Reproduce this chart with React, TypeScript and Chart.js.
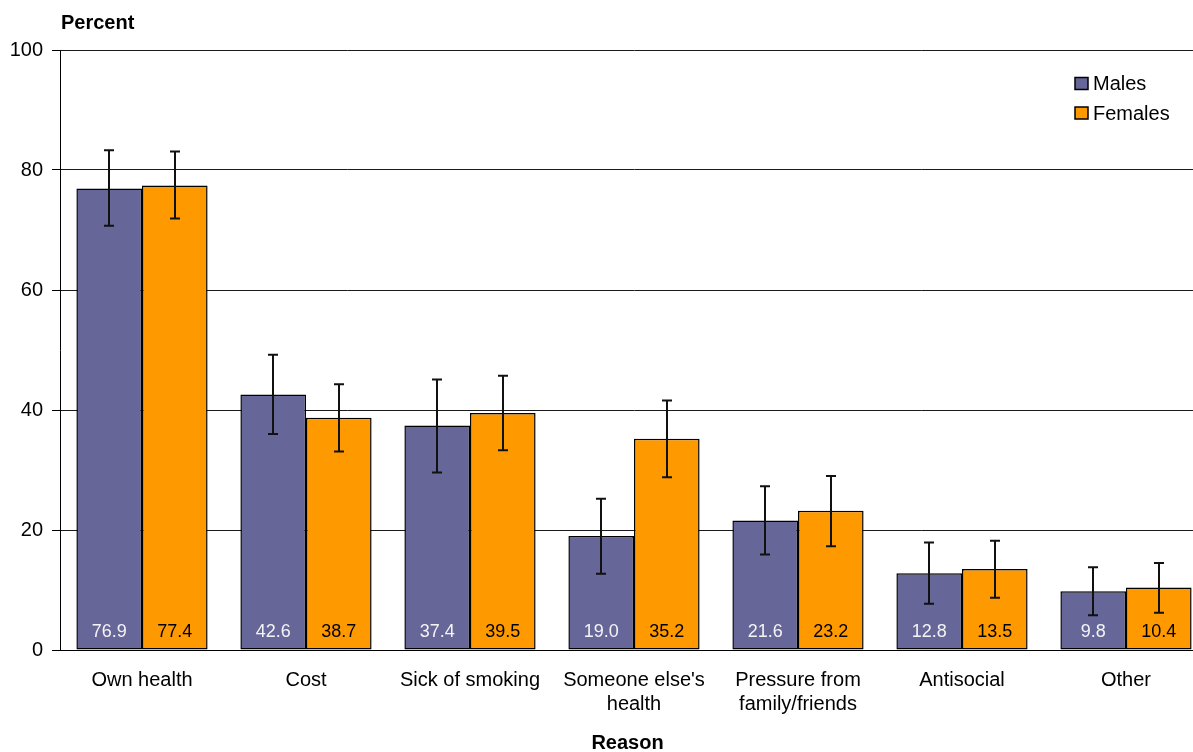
import React, { useEffect, useRef } from "react";
import { Chart, registerables } from "chart.js";

Chart.register(...registerables);

const categories: (string | string[])[] = [
  "Own health",
  "Cost",
  "Sick of smoking",
  ["Someone else's", "health"],
  ["Pressure from", "family/friends"],
  "Antisocial",
  "Other",
];
const malesValues = [76.9, 42.6, 37.4, 19.0, 21.6, 12.8, 9.8];
const femalesValues = [77.4, 38.7, 39.5, 35.2, 23.2, 13.5, 10.4];
const malesLow = [70.7, 36.0, 29.6, 12.7, 15.9, 7.7, 5.8];
const malesHigh = [83.3, 49.2, 45.1, 25.2, 27.3, 17.9, 13.8];
const femalesLow = [71.9, 33.1, 33.3, 28.8, 17.3, 8.7, 6.2];
const femalesHigh = [83.1, 44.3, 45.7, 41.6, 29.0, 18.2, 14.5];
const yTicks = [0, 20, 40, 60, 80, 100];

const FONT = "'Liberation Sans', Arial, sans-serif";
const MALE_COLOR = "#666699";
const FEMALE_COLOR = "#FF9900";

const errorBarPlugin = {
  id: "errorBars",
  afterDatasetsDraw(chart: any) {
    const ctx = chart.ctx;
    const y = chart.scales.y;
    const lows = [malesLow, femalesLow];
    const highs = [malesHigh, femalesHigh];
    ctx.save();
    ctx.strokeStyle = "#111";
    ctx.lineWidth = 2;
    chart.data.datasets.forEach((_ds: any, di: number) => {
      const meta = chart.getDatasetMeta(di);
      meta.data.forEach((el: any, i: number) => {
        const x = Math.round(el.x);
        const yl = y.getPixelForValue(lows[di][i]);
        const yh = y.getPixelForValue(highs[di][i]);
        ctx.beginPath();
        ctx.moveTo(x, yl);
        ctx.lineTo(x, yh);
        ctx.moveTo(x - 5, yl);
        ctx.lineTo(x + 5, yl);
        ctx.moveTo(x - 5, yh);
        ctx.lineTo(x + 5, yh);
        ctx.stroke();
      });
    });
    // value labels
    ctx.font = `18px ${FONT}`;
    ctx.textAlign = "center";
    ctx.textBaseline = "middle";
    const base = y.getPixelForValue(0);
    chart.data.datasets.forEach((ds: any, di: number) => {
      const meta = chart.getDatasetMeta(di);
      ctx.fillStyle = di === 0 ? "#f4f4f4" : "#000";
      meta.data.forEach((el: any, i: number) => {
        ctx.fillText(Number(ds.data[i]).toFixed(1), el.x, base - 18);
      });
    });
    ctx.restore();
  },
  afterDraw(chart: any) {
    const ctx = chart.ctx;
    ctx.save();
    // axis titles
    ctx.fillStyle = "#000";
    ctx.font = `bold 20px ${FONT}`;
    ctx.textBaseline = "middle";
    ctx.textAlign = "left";
    ctx.fillText("Percent", 61, 23);
    ctx.textAlign = "center";
    ctx.fillText("Reason", 627.5, 743);
    // legend
    const items = chart.data.datasets.map((ds: any) => ({ label: ds.label, color: ds.backgroundColor }));
    items.forEach((it: any, i: number) => {
      const cy = 83.5 + i * 29.5;
      ctx.fillStyle = it.color;
      ctx.fillRect(1075, cy - 6, 13, 12);
      ctx.strokeStyle = "#000";
      ctx.lineWidth = 1.5;
      ctx.strokeRect(1075, cy - 6, 13, 12);
      ctx.fillStyle = "#000";
      ctx.font = `20px ${FONT}`;
      ctx.textAlign = "left";
      ctx.fillText(it.label, 1093, cy + 1);
    });
    ctx.restore();
  },
};

export default function App() {
  const ref = useRef<HTMLCanvasElement | null>(null);
  useEffect(() => {
    document.body.style.margin = "0";
    if (!ref.current) return;
    const chart = new Chart(ref.current, {
      type: "bar",
      data: {
        labels: categories,
        datasets: [
          {
            label: "Males",
            data: malesValues,
            backgroundColor: MALE_COLOR,
            borderColor: "#000",
            borderWidth: 1.5,
            borderSkipped: false,
            categoryPercentage: 0.8,
            barPercentage: 1.0,
          },
          {
            label: "Females",
            data: femalesValues,
            backgroundColor: FEMALE_COLOR,
            borderColor: "#000",
            borderWidth: 1.5,
            borderSkipped: false,
            categoryPercentage: 0.8,
            barPercentage: 1.0,
          },
        ],
      },
      options: {
        animation: false,
        responsive: false,
        events: [],
        layout: { padding: { top: 50, left: 0, right: 0, bottom: 0 } },
        plugins: {
          legend: { display: false },
          tooltip: { enabled: false },
          title: { display: false },
        },
        scales: {
          x: {
            grid: { display: false, drawTicks: false },
            border: { display: true, color: "#000", width: 1 },
            ticks: {
              color: "#000",
              font: { family: FONT, size: 20, lineHeight: 1.22 },
              padding: 18,
              maxRotation: 0,
              autoSkip: false,
            },
            afterFit: (s: any) => {
              s.height = 102;
            },
          },
          y: {
            min: 0,
            max: 100,
            afterBuildTicks: (s: any) => {
              s.ticks = yTicks.map((v) => ({ value: v }));
            },
            grid: { color: "#1a1a1a", lineWidth: 1, tickLength: 8, tickColor: "#000" },
            border: { display: true, color: "#000", width: 1 },
            ticks: {
              color: "#000",
              font: { family: FONT, size: 20 },
              padding: 9,
            },
            afterFit: (s: any) => {
              s.width = 60;
            },
          },
        },
      },
      plugins: [errorBarPlugin],
    });
    return () => chart.destroy();
  }, []);
  return (
    <div style={{ width: 1193, height: 752, overflow: "hidden" }}>
      <canvas ref={ref} width={1208} height={752} style={{ display: "block" }} />
    </div>
  );
}
